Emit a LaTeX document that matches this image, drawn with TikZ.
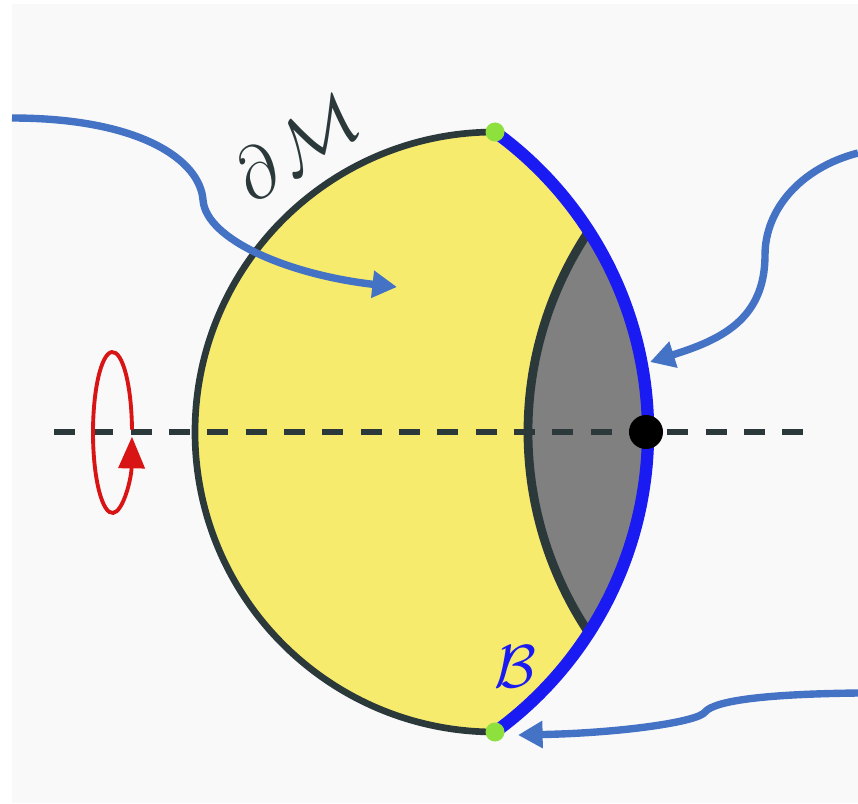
\documentclass[tikz,border=0pt]{standalone}
\usepackage{amsmath,amssymb}
\usepackage{xcolor}
\usetikzlibrary{arrows.meta}

\definecolor{bgGray}{HTML}{F9F9F9}
\definecolor{bodyYellow}{HTML}{F7EB6E}
\definecolor{capGray}{HTML}{808080}
\definecolor{edgeDark}{HTML}{2C393B}
\definecolor{rimBlue}{HTML}{1A1AF2}
\definecolor{pointBlue}{HTML}{4472C4}
\definecolor{spinRed}{HTML}{D81414}
\definecolor{cornerGreen}{HTML}{8EE03C}

\begin{document}
\begin{tikzpicture}[
  x=0.01cm, y=0.01cm,
  every node/.style={inner sep=0pt},
  outline/.style={draw=edgeDark, line width=1.9pt},
  innerrim/.style={draw=edgeDark, line width=2.5pt},
  rim/.style={draw=rimBlue, line width=3.5pt},
  axis/.style={draw=edgeDark, line width=1.7pt, dash pattern=on 6pt off 4.9pt},
  pointer/.style={draw=pointBlue, line width=2.1pt, -{Triangle[length=7pt, width=7.4pt]}},
  spin/.style={draw=spinRed, line width=1.1pt, -{Triangle[length=9pt, width=7.4pt]}},
  corner/.style={circle, fill=cornerGreen, minimum size=1.9mm},
]

% canvas
\useasboundingbox (0,0) rectangle (858,-803);
\fill[bgGray] (12,-4) rectangle (858,-803);

% end points of the rim
\coordinate (top) at (495,-132);
\coordinate (bot) at (495,-732);
\coordinate (capTop) at (588.8,-231.1);

% body and cap
\fill[bodyYellow] (top) arc[start angle=90, end angle=270, radius=300]
  arc[start angle=-54.05, end angle=54.05, radius=370.6] -- cycle;
\fill[capGray] (capTop) arc[start angle=146.3, end angle=213.7, radius=362]
  arc[start angle=-32.83, end angle=32.83, radius=370.6] -- cycle;

% symmetry axis
\coordinate (axL) at (54,-432);
\coordinate (axR) at (805,-432);
\draw[axis] (axL) -- (axR);

% boundaries
\draw[outline] (top) arc[start angle=90, end angle=270, radius=300];
\draw[innerrim] (capTop) arc[start angle=146.3, end angle=213.7, radius=362];
\draw[rim] (bot) arc[start angle=-54.05, end angle=54.05, radius=370.6];

% points
\node[circle, fill=black, minimum size=3.4mm] (tip) at (646,-432) {};
\node[corner] (gTop) at (top) {};
\node[corner] (gBot) at (bot) {};

% rotation marker
\coordinate (spinC) at (112.5,-432.5);
\draw[spin] ([shift={(2:19.5 and 80.5)}]spinC)
  arc[start angle=2, end angle=357, x radius=19.5, y radius=80.5];

% labels
\node[rotate=33, text=edgeDark] (dM) at (296,-147)
  {\fontsize{20}{24}\selectfont$\partial\mkern1mu\mathcal{M}$};
\node[text=rimBlue] (bdB) at (515,-667)
  {\fontsize{19}{22}\selectfont$\mathcal{B}$};

% pointers
\coordinate (srcA) at (12,-118);
\coordinate (tipA) at (397,-287);
\coordinate (srcB) at (858,-153);
\coordinate (tipB) at (650,-362);
\coordinate (srcC) at (858,-693);
\coordinate (tipC) at (518,-735);
\draw[pointer] (srcA) .. controls (140,-118) and (200,-160) .. (203,-200)
  .. controls (206,-240) and (290,-275) .. (tipA);
\draw[pointer] (srcB) .. controls (800,-168) and (765,-210) .. (765,-255)
  .. controls (765,-320) and (720,-340) .. (tipB);
\draw[pointer] (srcC) .. controls (770,-694) and (715,-700) .. (705,-712)
  .. controls (698,-722) and (620,-733) .. (tipC);

\end{tikzpicture}
\end{document}
